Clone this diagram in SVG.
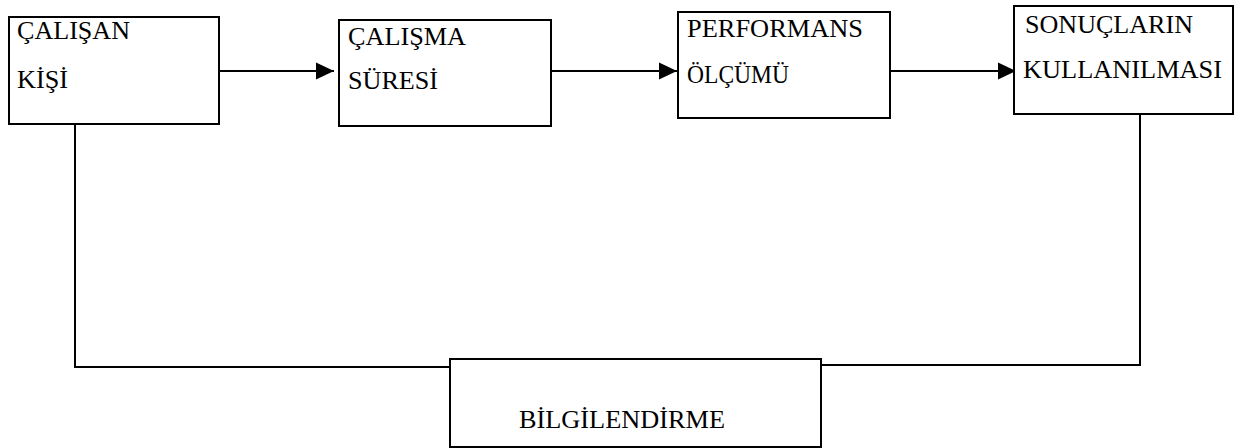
<svg xmlns="http://www.w3.org/2000/svg" width="1236" height="448" viewBox="0 0 1236 448">
<style>
.box{fill:#fff;stroke:#000;stroke-width:2}
.lbl{font-family:"Liberation Serif","Times New Roman",serif;font-size:26px;fill:#000}
.conn{fill:none;stroke:#000;stroke-width:2}
</style>
<defs>
<marker id="arr" markerUnits="userSpaceOnUse" markerWidth="18" markerHeight="18" viewBox="0 0 16 16" refX="16" refY="8" orient="auto">
<path d="M0,0.5 L16,8 L0,15.5 Z" fill="#000"/>
</marker>
</defs>
<g id="connectors">
<path class="conn" d="M219,71 H334" marker-end="url(#arr)"/>
<path class="conn" d="M551,71 H677" marker-end="url(#arr)"/>
<path class="conn" d="M890,71 H1016" marker-end="url(#arr)"/>
<path class="conn" d="M75,124 V367 H450"/>
<path class="conn" d="M1140,114 V365 H821"/>
</g>
<g id="calisan">
<rect class="box" x="9" y="17" width="210" height="107"/>
<text class="lbl" x="17" y="39" textLength="113" lengthAdjust="spacingAndGlyphs">ÇALIŞAN</text>
<text class="lbl" x="17" y="88" textLength="51" lengthAdjust="spacingAndGlyphs">KİŞİ</text>
</g>
<g id="calisma">
<rect class="box" x="339" y="20" width="212" height="106"/>
<text class="lbl" x="348" y="45" textLength="118" lengthAdjust="spacingAndGlyphs">ÇALIŞMA</text>
<text class="lbl" x="348" y="89" textLength="90" lengthAdjust="spacingAndGlyphs">SÜRESİ</text>
</g>
<g id="performans">
<rect class="box" x="678" y="12" width="212" height="106"/>
<text class="lbl" x="687" y="37" textLength="176" lengthAdjust="spacingAndGlyphs">PERFORMANS</text>
<text class="lbl" x="687" y="83" textLength="102" lengthAdjust="spacingAndGlyphs">ÖLÇÜMÜ</text>
</g>
<g id="sonuclar">
<rect class="box" x="1014" y="6" width="219" height="108"/>
<text class="lbl" x="1025" y="33" textLength="168" lengthAdjust="spacingAndGlyphs">SONUÇLARIN</text>
<text class="lbl" x="1023" y="78" textLength="199" lengthAdjust="spacingAndGlyphs">KULLANILMASI</text>
</g>
<g id="bilgilendirme">
<rect class="box" x="450" y="359" width="371" height="88"/>
<text class="lbl" x="519" y="428" textLength="206" lengthAdjust="spacingAndGlyphs">BİLGİLENDİRME</text>
</g>
</svg>
